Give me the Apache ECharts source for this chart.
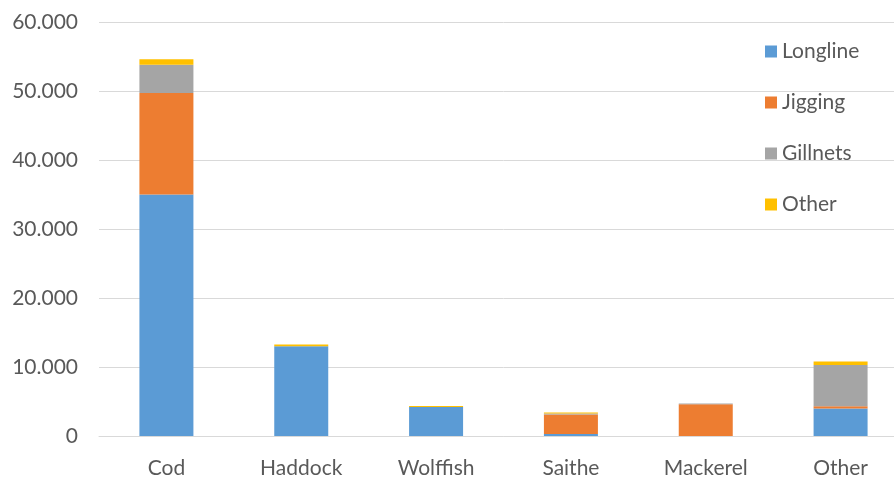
<!DOCTYPE html>
<html>
<head>
<meta charset="utf-8">
<script src="https://cdn.jsdelivr.net/npm/echarts@6/dist/echarts.min.js"></script>
<style>html,body{margin:0;padding:0;background:#fff;overflow:hidden;}#c{width:908px;height:479px;}</style>
</head>
<body>
<div id="c"></div>
<script>
const categories = ['Cod', 'Haddock', 'Wolffish', 'Saithe', 'Mackerel', 'Other'];
const longline = [35000, 13000, 4200, 300, 0, 4000];
const jigging = [14700, 0, 0, 2800, 4600, 300];
const gillnets = [4100, 0, 0, 150, 100, 6000];
const otherGear = [800, 250, 150, 150, 0, 500];
const seriesNames = ['Longline', 'Jigging', 'Gillnets', 'Other'];
const yTicks = ['0', '10.000', '20.000', '30.000', '40.000', '50.000', '60.000'];

const colors = ['#5b9bd5', '#ed7d31', '#a5a5a5', '#ffc000'];
const font = 'Lato, "Open Sans", sans-serif';
const chart = echarts.init(document.getElementById('c'), null, {renderer: 'canvas'});
const seriesData = [longline, jigging, gillnets, otherGear];
chart.setOption({
  animation: false,
  color: colors,
  grid: {left: 99, top: 22, right: 0, height: 415, containLabel: false},
  legend: {
    orient: 'vertical',
    left: 760, top: 36,
    itemWidth: 12, itemHeight: 12, itemGap: 30,
    icon: 'rect',
    textStyle: {fontFamily: font, fontSize: 21, color: '#595959', padding: [0, 0, 0, 0]},
    data: seriesNames
  },
  xAxis: {
    type: 'category',
    data: categories,
    axisLine: {lineStyle: {color: '#d9d9d9', width: 1}},
    axisTick: {show: false},
    axisLabel: {fontFamily: font, fontSize: 21, color: '#595959', margin: 22}
  },
  yAxis: {
    type: 'value',
    min: 0, max: 60000, interval: 10000,
    axisLine: {show: false},
    axisTick: {show: false},
    splitLine: {lineStyle: {color: '#d9d9d9', width: 1}},
    axisLabel: {
      fontFamily: font, fontSize: 21, color: '#595959', margin: 21,
      formatter: v => yTicks[Math.round(v / 10000)]
    }
  },
  series: seriesNames.map((n, i) => ({
    name: n,
    type: 'bar',
    stack: 'total',
    barWidth: 54,
    data: seriesData[i],
    itemStyle: {color: colors[i]}
  }))
});
</script>
</body>
</html>
